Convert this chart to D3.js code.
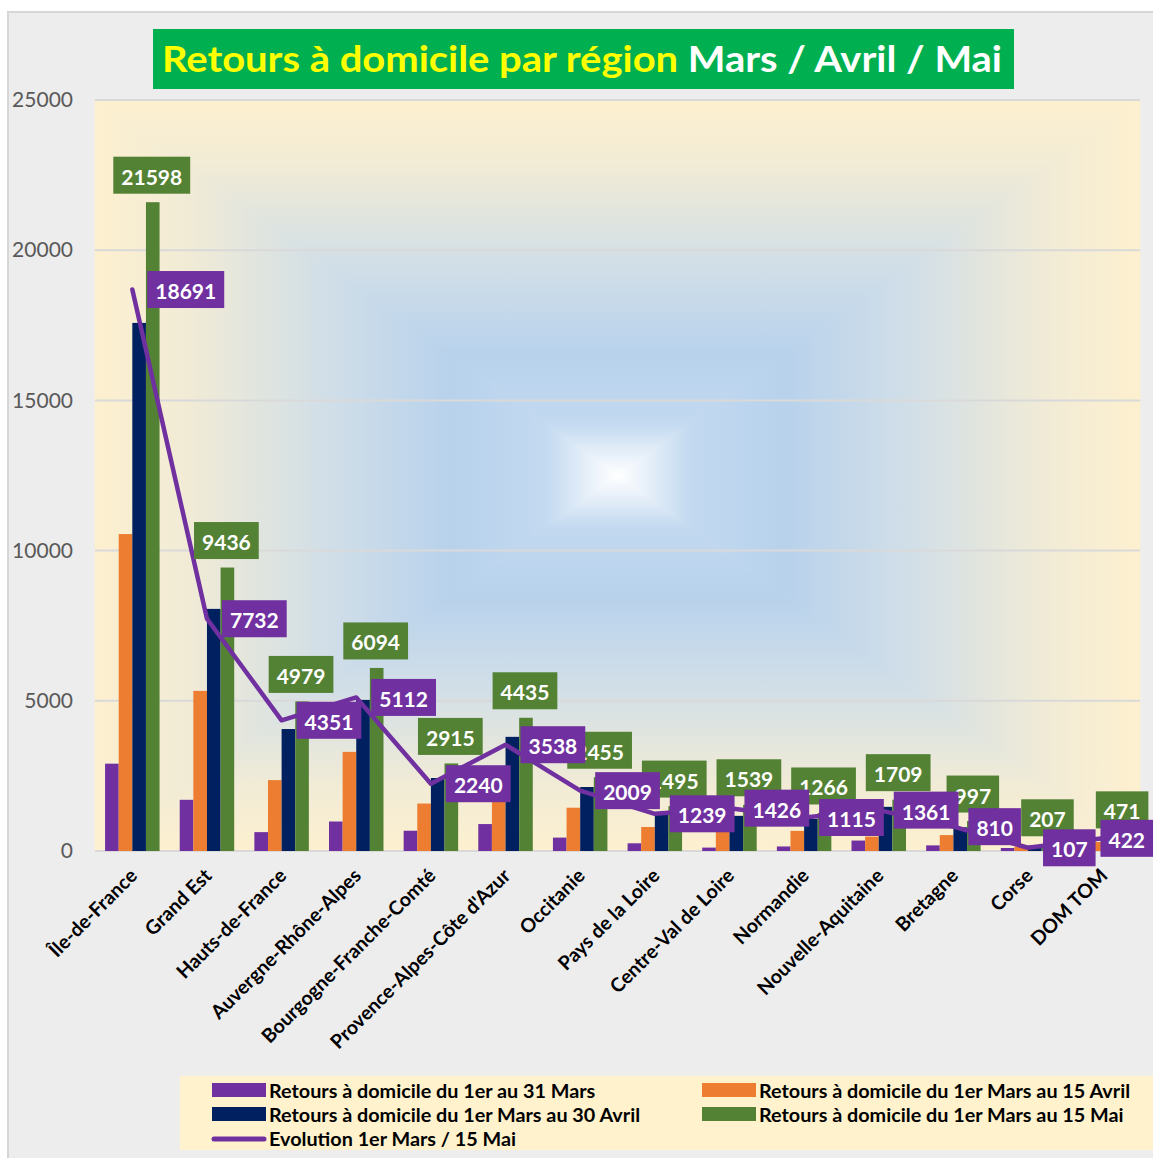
<!DOCTYPE html>
<html>
<head>
<meta charset="utf-8">
<script src="https://cdn.jsdelivr.net/npm/d3@7"></script>
<style>
  body { margin: 0; background: #fff; }
  svg { display: block; font-family: Lato, "Open Sans", sans-serif; }
</style>
</head>
<body>
<svg width="1153" height="1158"></svg>
<script>
// data
var regions = ["Île-de-France", "Grand Est", "Hauts-de-France", "Auvergne-Rhône-Alpes",
  "Bourgogne-Franche-Comté", "Provence-Alpes-Côte d'Azur", "Occitanie", "Pays de la Loire",
  "Centre-Val de Loire", "Normandie", "Nouvelle-Aquitaine", "Bretagne", "Corse", "DOM TOM"];
var mars = [2907, 1704, 628, 982, 675, 897, 446, 256, 113, 151, 348, 187, 100, 49];
var avril15 = [10550, 5330, 2360, 3300, 1580, 1900, 1440, 800, 700, 670, 480, 530, 150, 300];
var avril30 = [17580, 8060, 4060, 5030, 2430, 3800, 2130, 1200, 1170, 1070, 1470, 790, 180, 400];
var mai15 = [21598, 9436, 4979, 6094, 2915, 4435, 2455, 1495, 1539, 1266, 1709, 997, 207, 471];
var evolution = [18691, 7732, 4351, 5112, 2240, 3538, 2009, 1239, 1426, 1115, 1361, 810, 107, 422];
var yTicks = [0, 5000, 10000, 15000, 20000, 25000];

var seriesNames = ["Retours à domicile du 1er au 31 Mars", "Retours à domicile du 1er Mars au 15 Avril",
  "Retours à domicile du 1er Mars au 30 Avril", "Retours à domicile du 1er Mars au 15 Mai"];
var lineName = "Evolution 1er Mars / 15 Mai";
var colors = ["#7030a0", "#ed7d31", "#002060", "#548235"];
var series = [mars, avril15, avril30, mai15];

var svg = d3.select("svg");
var W = 1153;
var plotL = 95, plotR = 1140, plotT = 100, plotB = 851;

// gray panel
svg.append("rect").attr("x", 8).attr("y", 12).attr("width", 1150).attr("height", 1150)
  .attr("fill", "#ededed").attr("stroke", "#d6d6d6").attr("stroke-width", 2);

// title
svg.append("rect").attr("x", 153).attr("y", 29).attr("width", 861).attr("height", 60).attr("fill", "#00b050");
var title = svg.append("text").attr("x", 162).attr("y", 72)
  .attr("font-size", 36).attr("font-weight", "bold")
  .attr("textLength", 840).attr("lengthAdjust", "spacingAndGlyphs");
title.append("tspan").attr("fill", "#ffff00").text("Retours à domicile par région ");
title.append("tspan").attr("fill", "#ffffff").text("Mars / Avril / Mai");

// plot background: rectangular gradient made of four triangles
var defs = svg.append("defs");
var cx = (plotL + plotR) / 2, cy = (plotT + plotB) / 2;
var stops = [[0, "#fdf0cf"], [0.18, "#f1ebd6"], [0.45, "#d0dee8"], [0.68, "#b8d2ec"], [0.86, "#c2d9f0"], [1, "#ffffff"]];
var sides = [
  {id: "gT", pts: [[plotL, plotT], [plotR, plotT], [cx, cy]], x1: 0, y1: plotT, x2: 0, y2: cy},
  {id: "gB", pts: [[plotL, plotB], [plotR, plotB], [cx, cy]], x1: 0, y1: plotB, x2: 0, y2: cy},
  {id: "gL", pts: [[plotL, plotT], [plotL, plotB], [cx, cy]], x1: plotL, y1: 0, x2: cx, y2: 0},
  {id: "gR", pts: [[plotR, plotT], [plotR, plotB], [cx, cy]], x1: plotR, y1: 0, x2: cx, y2: 0}
];
sides.forEach(function(s) {
  var lg = defs.append("linearGradient").attr("id", s.id).attr("gradientUnits", "userSpaceOnUse")
    .attr("x1", s.x1).attr("y1", s.y1).attr("x2", s.x2).attr("y2", s.y2);
  stops.forEach(function(st) {
    lg.append("stop").attr("offset", st[0]).attr("stop-color", st[1]);
  });
  svg.append("polygon").attr("points", s.pts.map(function(p) { return p.join(","); }).join(" "))
    .attr("fill", "url(#" + s.id + ")").attr("stroke", "url(#" + s.id + ")").attr("stroke-width", 0.8);
});

var x = d3.scaleBand().domain(regions).range([plotL, plotR]).paddingInner(0.27).paddingOuter(0.135);
var xSub = d3.scaleBand().domain(d3.range(4)).range([0, x.bandwidth()]);
var y = d3.scaleLinear().domain([0, 25000]).range([plotB, plotT]);

// gridlines
svg.append("g").selectAll("line").data(yTicks).enter().append("line")
  .attr("x1", plotL).attr("x2", plotR)
  .attr("y1", function(d) { return y(d); }).attr("y2", function(d) { return y(d); })
  .attr("stroke", "#d9d9d9").attr("stroke-width", 2);

// y axis
var yAxis = svg.append("g").attr("transform", "translate(" + (plotL - 22) + ",0)")
  .call(d3.axisLeft(y).tickValues(yTicks).tickFormat(d3.format("d")).tickSize(0).tickPadding(0));
yAxis.select(".domain").remove();
yAxis.selectAll("text").attr("font-size", 21).attr("fill", "#595959").attr("font-family", "Lato, sans-serif");

// bars
series.forEach(function(vals, si) {
  svg.append("g").selectAll("rect").data(vals).enter().append("rect")
    .attr("x", function(d, i) { return x(regions[i]) + xSub(si); })
    .attr("y", function(d) { return y(d); })
    .attr("width", xSub.bandwidth())
    .attr("height", function(d) { return plotB - y(d); })
    .attr("fill", colors[si]);
});

// x axis labels
var xAxis = svg.append("g").attr("transform", "translate(0," + plotB + ")")
  .call(d3.axisBottom(x).tickSize(0).tickPadding(0));
xAxis.select(".domain").remove();
xAxis.selectAll("text")
  .attr("font-size", 19.5).attr("font-weight", "bold").attr("fill", "#000").attr("font-family", "Lato, sans-serif")
  .attr("text-anchor", "end").attr("dy", null).attr("y", 0)
  .attr("transform", "translate(6,26) rotate(-45)");

// evolution line
var line = d3.line()
  .x(function(d, i) { return x(regions[i]) + x.bandwidth() / 2; })
  .y(function(d) { return y(d); });
svg.append("path").datum(evolution).attr("d", line)
  .attr("fill", "none").attr("stroke", "#7030a0").attr("stroke-width", 4.5)
  .attr("stroke-linejoin", "round").attr("stroke-linecap", "round");

// data labels
function label(g, txt, xc, yc, fill, anchor) {
  var t = g.append("text").attr("font-size", 21).attr("font-weight", "bold").attr("fill", "#fff")
    .attr("dominant-baseline", "central").text(txt);
  var w = t.node().getComputedTextLength() + 16;
  var bx = anchor === "left" ? xc : xc - w / 2;
  bx = Math.min(bx, W - w);
  g.insert("rect", "text").attr("x", bx).attr("y", yc - 18.5).attr("width", w).attr("height", 37).attr("fill", fill);
  t.attr("x", bx + w / 2).attr("y", yc + 1).attr("text-anchor", "middle");
}
mai15.forEach(function(d, i) {
  var g = svg.append("g");
  label(g, d, x(regions[i]) + xSub(3) + xSub.bandwidth() / 2 - 1, y(d) - 27, "#548235", "center");
});
evolution.forEach(function(d, i) {
  var g = svg.append("g");
  label(g, d, x(regions[i]) + x.bandwidth() / 2 + 15, y(d), "#7030a0", "left");
});

// legend
svg.append("rect").attr("x", 180).attr("y", 1076).attr("width", 980).attr("height", 74).attr("fill", "#fff2cc");
var legItems = [
  {name: seriesNames[0], c: colors[0], x: 212, y: 1090},
  {name: seriesNames[1], c: colors[1], x: 702, y: 1090},
  {name: seriesNames[2], c: colors[2], x: 212, y: 1114},
  {name: seriesNames[3], c: colors[3], x: 702, y: 1114}
];
legItems.forEach(function(it) {
  svg.append("rect").attr("x", it.x).attr("y", it.y - 7).attr("width", 54).attr("height", 14).attr("fill", it.c);
  svg.append("text").attr("x", it.x + 57).attr("y", it.y).attr("dominant-baseline", "central")
    .attr("font-size", 19.8).attr("font-weight", "bold").attr("fill", "#000").text(it.name);
});
svg.append("line").attr("x1", 214).attr("x2", 264).attr("y1", 1139).attr("y2", 1139)
  .attr("stroke", "#7030a0").attr("stroke-width", 5).attr("stroke-linecap", "round");
svg.append("text").attr("x", 269).attr("y", 1138).attr("dominant-baseline", "central")
  .attr("font-size", 19.8).attr("font-weight", "bold").attr("fill", "#000").text(lineName);
</script>
</body>
</html>
